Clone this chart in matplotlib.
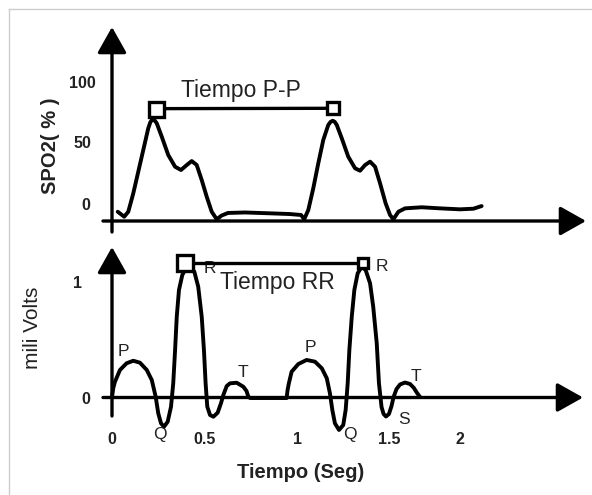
import matplotlib
matplotlib.use("Agg")
import matplotlib.pyplot as plt

plt.rcParams['font.family'] = ['Liberation Sans', 'DejaVu Sans']

# SpO2 pulse wave (time in s, SpO2 in %)
spo2_t = [0.031, 0.066, 0.088, 0.115, 0.142, 0.169, 0.196, 0.207, 0.218, 0.230, 0.242,
          0.269, 0.304, 0.341, 0.373, 0.404, 0.431, 0.458, 0.485, 0.512, 0.539, 0.566,
          0.593, 0.627, 0.719, 0.854, 0.962, 1.022, 1.039,
          1.061, 1.088, 1.115, 1.142, 1.169, 1.181, 1.193, 1.204, 1.215, 1.242, 1.277,
          1.314, 1.341, 1.368, 1.395, 1.422, 1.449, 1.479, 1.503, 1.521, 1.548, 1.584,
          1.674, 1.773, 1.881, 1.953, 1.998]
spo2_v = [-6.4, -10.5, -6.4, 8.8, 26.7, 44.6, 62.6, 67.5, 70.0, 69.2, 66.7,
          55.6, 40.5, 30.8, 28.1, 32.2, 35.5, 32.2, 19.8, 6.0, -6.4, -12.6,
          -9.5, -7.4, -7.0, -7.7, -8.3, -9.1, -12.6,
          -5.0, 13.0, 33.6, 52.9, 65.3, 67.8, 68.8, 67.9, 65.3, 54.3, 39.1,
          29.5, 27.5, 32.2, 35.0, 30.8, 17.1, 0.6, -9.1, -12.6, -6.4, -3.6,
          -2.7, -3.6, -4.4, -3.9, -1.7]

# ECG trace (time in s, mV)
ecg_t = [0.000, 0.007, 0.016, 0.043, 0.079, 0.115, 0.151, 0.188, 0.215, 0.236, 0.250,
         0.265, 0.281, 0.301, 0.319, 0.331, 0.341, 0.350, 0.362, 0.380, 0.404, 0.422,
         0.445, 0.466, 0.485, 0.497, 0.506, 0.515, 0.530, 0.548, 0.571, 0.589, 0.602,
         0.620, 0.638, 0.674, 0.710, 0.727, 0.737, 0.746, 0.944,
         0.949, 0.956, 0.971, 1.007, 1.052, 1.097, 1.134, 1.161, 1.178, 1.191, 1.205,
         1.227, 1.250, 1.263, 1.274, 1.283, 1.296, 1.310, 1.328, 1.350, 1.371, 1.395,
         1.412, 1.431, 1.443, 1.457, 1.468, 1.481, 1.497, 1.511, 1.522, 1.538, 1.557,
         1.584, 1.611, 1.632, 1.649, 1.665]
ecg_mv = [0.000, 0.079, 0.134, 0.237, 0.296, 0.318, 0.301, 0.237, 0.149, 0.003, -0.143,
          -0.231, -0.261, -0.217, -0.085, 0.120, 0.412, 0.704, 0.939, 1.070, 1.143, 1.149,
          1.099, 0.968, 0.704, 0.412, 0.120, -0.085, -0.158, -0.173, -0.138, -0.055, 0.018,
          0.096, 0.120, 0.125, 0.090, 0.053, 0.003, -0.009, -0.009,
          0.061, 0.120, 0.222, 0.289, 0.325, 0.310, 0.252, 0.164, 0.032, -0.114, -0.231,
          -0.289, -0.246, -0.114, 0.120, 0.412, 0.704, 0.939, 1.085, 1.143, 1.114, 0.997,
          0.792, 0.471, 0.120, -0.088, -0.149, -0.171, -0.149, -0.079, 0.000, 0.070, 0.110,
          0.127, 0.114, 0.079, 0.035, 0.000]

# marked peaks
pp_t = [0.237, 1.194]
pp_v = [78.8, 79.1]
rr_t = [0.395, 1.356]
rr_mv = [1.173, 1.173]

# wave letters
wave_lbl = ['P', 'Q', 'R', 'T', 'P', 'Q', 'R', 'S', 'T']
wave_t = [0.059, 0.259, 0.530, 0.706, 1.070, 1.286, 1.457, 1.579, 1.641]
wave_mv = [0.395, -0.325, 1.123, 0.213, 0.432, -0.325, 1.142, -0.196, 0.178]

xtick_pos = [0, 0.5, 1, 1.5, 1.88]
xtick_lbl = ['0', '0.5', '1', '1.5', '2']

W, H = 592, 495


def fx(x):
    return x / W


def fy(y):
    return 1 - y / H


fig = plt.figure(figsize=(W / 100, H / 100), dpi=100)

# both panels share the full figure; scales: x0=112px, 185 px/s
x0, sx = 112, 185
ax1 = fig.add_axes([0, 0, 1, 1])
ax1.set_xlim(-x0 / sx, (W - x0) / sx)
ax1.set_ylim((204 - H) / 1.21, 204 / 1.21)
ax1.axis('off')
ax2 = fig.add_axes([0, 0, 1, 1])
ax2.set_xlim(-x0 / sx, (W - x0) / sx)
ax2.set_ylim((397 - H) / 114, 397 / 114)
ax2.axis('off')
ax2.patch.set_alpha(0)

# light frame
fig.add_artist(plt.Line2D([fx(9), 1], [fy(9), fy(9)], color='#cccccc', lw=1))
fig.add_artist(plt.Line2D([fx(9), fx(9)], [fy(9), 0], color='#cccccc', lw=1))

# axis arrows
arrow = dict(arrowstyle='-|>,head_length=1.6,head_width=0.9', lw=2.4, color='black',
             mutation_scale=10, shrinkA=0, shrinkB=0)
for start, tip in [((112, 232), (112, 27)), ((103, 221), (586, 221)),
                   ((112, 416), (112, 247)), ((103, 397.5), (583, 397.5))]:
    ax1.annotate('', xy=(fx(tip[0]), fy(tip[1])), xytext=(fx(start[0]), fy(start[1])),
                 xycoords='figure fraction', textcoords='figure fraction', arrowprops=arrow)

# curves
ax1.plot(spo2_t, spo2_v, color='black', lw=2.8, solid_capstyle='round', solid_joinstyle='round')
ax2.plot(ecg_t, ecg_mv, color='black', lw=2.8, solid_capstyle='round', solid_joinstyle='round')

# interval bars with square markers
ax1.plot(pp_t, pp_v, color='black', lw=2.4, zorder=4)
ax1.plot(pp_t[0], pp_v[0], 's', ms=10.8, mfc='white', mec='black', mew=2.4, zorder=5)
ax1.plot(pp_t[1], pp_v[1], 's', ms=8, mfc='white', mec='black', mew=2.4, zorder=5)
ax2.plot(rr_t, rr_mv, color='black', lw=2.4, zorder=4)
ax2.plot(rr_t[0], rr_mv[0], 's', ms=11.5, mfc='white', mec='black', mew=2.4, zorder=5)
ax2.plot(rr_t[1], rr_mv[1], 's', ms=7.5, mfc='white', mec='black', mew=2.4, zorder=5)

tc = '#222222'
for lbl, t, v in zip(wave_lbl, wave_t, wave_mv):
    ax2.text(t, v, lbl, fontsize=12.5, ha='center', va='center', color=tc, zorder=3)

# text
fig.text(fx(241), fy(90), 'Tiempo P-P', fontsize=16.5, ha='center', va='center', color=tc)
fig.text(fx(277), fy(282), 'Tiempo RR', fontsize=16.5, ha='center', va='center', color=tc)
for s, x, y in [('100', 82, 83), ('50', 82, 143), ('0', 86, 205), ('1', 77, 283), ('0', 86, 400)]:
    fig.text(fx(x), fy(y), s, fontsize=11.5, fontweight='bold', ha='center', va='center', color=tc)
for p, s in zip(xtick_pos, xtick_lbl):
    ax2.text(p, (397 - 439) / 114, s, fontsize=11.5, fontweight='bold', ha='center', va='center', color=tc)
fig.text(fx(50), fy(146), 'SPO2( % )', fontsize=14.5, fontweight='bold', rotation=90,
         ha='center', va='center', color=tc)
fig.text(fx(32), fy(328), 'mili Volts', fontsize=15, rotation=90, ha='center', va='center', color=tc)
fig.text(fx(301), fy(472), 'Tiempo (Seg)', fontsize=14.5, fontweight='bold',
         ha='center', va='center', color=tc)

fig.savefig('out.png', dpi=100)
